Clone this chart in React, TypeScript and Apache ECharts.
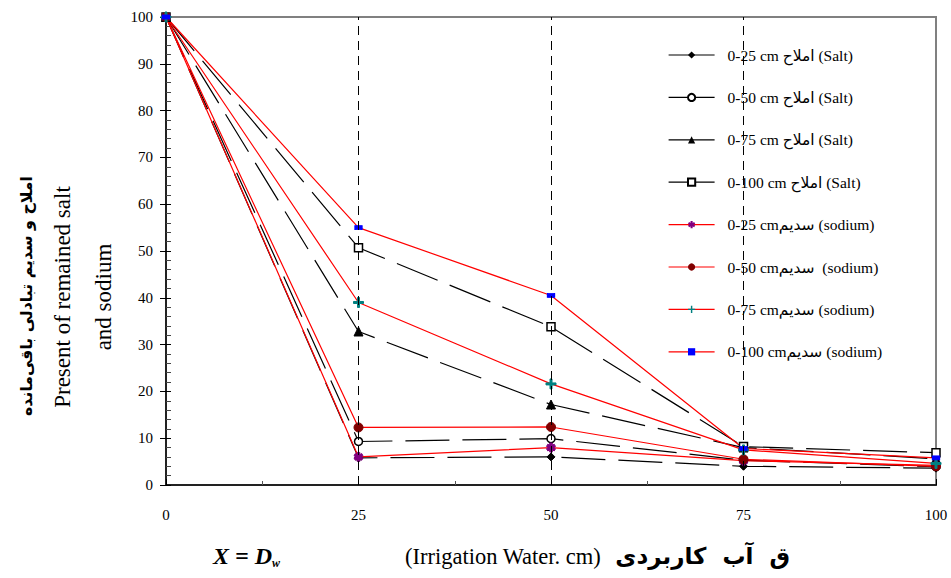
import React, { useEffect, useRef } from "react";
import * as echarts from "echarts";

const xValues = [0, 25, 50, 75, 100];
const xTicks = [0, 25, 50, 75, 100];
const yTicks = [0, 10, 20, 30, 40, 50, 60, 70, 80, 90, 100];

const seriesNames = [
  "0-25 cm املاح (Salt)",
  "0-50 cm املاح (Salt)",
  "0-75 cm املاح (Salt)",
  "0-100 cm املاح (Salt)",
  "0-25 cmسدیم (sodium)",
  "0-50 cmسدیم\u00a0 (sodium)",
  "0-75 cmسدیم (sodium)",
  "0-100 cmسدیم (sodium)",
];

const salt25 = [100, 5.8, 6.0, 4.0, 3.6];
const salt50 = [100, 9.3, 9.9, 5.3, 3.9];
const salt75 = [100, 32.8, 17.2, 8.0, 5.6];
const salt100 = [100, 50.7, 33.8, 8.2, 6.9];
const sodium25 = [100, 6.0, 8.0, 5.2, 4.2];
const sodium50 = [100, 12.3, 12.4, 5.5, 4.0];
const sodium75 = [100, 39.0, 21.6, 7.5, 4.6];
const sodium100 = [100, 55.0, 40.5, 7.8, 5.8];

const guideLines = [25, 50, 75];

function asteriskPath(): string {
  const w = 1.6;
  const h = 5.5;
  const parts: string[] = [];
  [0, 60, 120].forEach((deg) => {
    const a = (deg * Math.PI) / 180;
    const c = Math.cos(a);
    const s = Math.sin(a);
    const pts = [
      [-w, -h],
      [w, -h],
      [w, h],
      [-w, h],
    ].map(([px, py]) => [px * c - py * s, px * s + py * c]);
    parts.push(
      "M" + pts.map((p) => p[0].toFixed(2) + "," + p[1].toFixed(2)).join("L") + "Z"
    );
  });
  return "path://" + parts.join("");
}

const plusPath = "path://M-1,-5H1V-1H5V1H1V5H-1V1H-5V-1H-1Z";

export default function App() {
  const ref = useRef<HTMLDivElement>(null);
  useEffect(() => {
    document.body.style.margin = "0";
    if (!ref.current) return;
    const chart = echarts.init(ref.current, undefined, { renderer: "svg" });
    const mk = (arr: number[]) => arr.map((v, i) => [xValues[i], v]);
    const saltLine = { color: "#000", width: 1.2, type: [44, 13] as any };
    const redLine = { color: "#ff0000", width: 1.2, type: "solid" as any };
    const series: any[] = [
      {
        name: seriesNames[0],
        type: "line",
        data: mk(salt25),
        symbol: "diamond",
        symbolSize: 8,
        lineStyle: saltLine,
        itemStyle: { color: "#000", borderColor: "#000" },
        markLine: {
          silent: true,
          symbol: ["none", "none"],
          label: { show: false },
          lineStyle: { color: "#000", width: 1, type: [9, 6] },
          data: guideLines.map((v) => ({ xAxis: v })),
        },
      },
      {
        name: seriesNames[1],
        type: "line",
        data: mk(salt50),
        symbol: "circle",
        symbolSize: 8,
        lineStyle: saltLine,
        itemStyle: { color: "#fff", borderColor: "#000", borderWidth: 1.5 },
      },
      {
        name: seriesNames[2],
        type: "line",
        data: mk(salt75),
        symbol: "triangle",
        symbolSize: 9,
        lineStyle: saltLine,
        itemStyle: { color: "#000", borderColor: "#000" },
      },
      {
        name: seriesNames[3],
        type: "line",
        data: mk(salt100),
        symbol: "rect",
        symbolSize: 8,
        lineStyle: saltLine,
        itemStyle: { color: "#fff", borderColor: "#000", borderWidth: 1.5 },
      },
      {
        name: seriesNames[4],
        type: "line",
        data: mk(sodium25),
        symbol: asteriskPath(),
        symbolSize: 9,
        lineStyle: redLine,
        itemStyle: { color: "#800080", borderColor: "#800080" },
      },
      {
        name: seriesNames[5],
        type: "line",
        data: mk(sodium50),
        symbol: "circle",
        symbolSize: 9,
        lineStyle: redLine,
        itemStyle: { color: "#800000", borderColor: "#800000" },
      },
      {
        name: seriesNames[6],
        type: "line",
        data: mk(sodium75),
        symbol: plusPath,
        symbolSize: 10,
        lineStyle: redLine,
        itemStyle: { color: "#008080", borderColor: "#008080" },
      },
      {
        name: seriesNames[7],
        type: "line",
        data: mk(sodium100),
        symbol: "rect",
        symbolSize: [7, 4],
        lineStyle: redLine,
        itemStyle: { color: "#0000ff", borderColor: "#0000ff" },
      },
    ];

    const option: any = {
      animation: false,
      backgroundColor: "#fff",
      grid: {
        left: 166,
        right: 15,
        top: 17,
        bottom: 93,
        show: true,
        borderColor: "#808080",
        borderWidth: 2,
        backgroundColor: "transparent",
      },
      legend: {
        orient: "vertical",
        left: 663,
        top: 35,
        padding: [12, 14, 13, 5],
        itemGap: 26.4,
        itemWidth: 46,
        itemHeight: 9,
        backgroundColor: "#fff",
        lineStyle: { type: "solid", width: 1.2 },
        textStyle: {
          fontFamily: "Liberation Serif, DejaVu Sans",
          fontSize: 15.5,
          color: "#000",
          padding: [0, 0, 0, 8],
        },
        data: seriesNames,
      },
      xAxis: {
        type: "value",
        min: 0,
        max: 100,
        interval: 25,
        axisLine: { lineStyle: { color: "#222", width: 2 } },
        axisTick: { inside: true, length: 6, lineStyle: { color: "#000" } },
        minorTick: { show: true, splitNumber: 2, length: 4, lineStyle: { color: "#555" } },
        splitLine: { show: false },
        axisLabel: {
          margin: 22,
          fontFamily: "Liberation Serif",
          fontSize: 15,
          color: "#000",
          formatter: (v: number) => (xTicks.includes(v) ? String(v) : ""),
        },
      },
      yAxis: [
        {
          type: "value",
          min: 0,
          max: 100,
          interval: 10,
          axisLine: { lineStyle: { color: "#222", width: 2 } },
          axisTick: { inside: true, length: 5, lineStyle: { color: "#000" } },
          minorTick: { show: true, splitNumber: 5, length: 5, lineStyle: { color: "#444" } },
          splitLine: { show: false },
          axisLabel: {
            margin: 13,
            fontFamily: "Liberation Serif",
            fontSize: 15,
            color: "#000",
            formatter: (v: number) => (yTicks.includes(v) ? String(v) : ""),
          },
        },
        {
          type: "value",
          position: "left",
          min: 0,
          max: 100,
          interval: 10,
          axisLine: { show: false },
          axisTick: { show: true, inside: false, length: 6, lineStyle: { color: "#000" } },
          splitLine: { show: false },
          axisLabel: { show: false },
        },
      ],
      graphic: [
        {
          type: "text",
          x: 26,
          y: 296,
          rotation: Math.PI / 2,
          style: {
            text: "املاح و سدیم تبادلی باقی‌مانده",
            font: "bold 15.8px 'DejaVu Sans'",
            fill: "#000",
            align: "center",
            verticalAlign: "middle",
          },
        },
        {
          type: "text",
          x: 62,
          y: 297,
          rotation: Math.PI / 2,
          style: {
            text: "Present of remained salt",
            font: "23px 'Liberation Serif'",
            fill: "#000",
            align: "center",
            verticalAlign: "middle",
          },
        },
        {
          type: "text",
          x: 103,
          y: 297,
          rotation: Math.PI / 2,
          style: {
            text: "and sodium",
            font: "23px 'Liberation Serif'",
            fill: "#000",
            align: "center",
            verticalAlign: "middle",
          },
        },
        {
          type: "text",
          x: 213,
          y: 556,
          style: {
            text: "{a|X = D}{b|w}",
            fill: "#000",
            verticalAlign: "middle",
            rich: {
              a: { font: "italic bold 24px 'Liberation Serif'", fill: "#000" },
              b: { font: "italic bold 12px 'Liberation Serif'", fill: "#000", padding: [13, 0, 0, 0] },
            },
          },
        },
        {
          type: "text",
          x: 405,
          y: 556,
          style: {
            text: "(Irrigation Water. cm)",
            font: "22.5px 'Liberation Serif'",
            fill: "#000",
            align: "left",
            verticalAlign: "middle",
          },
        },
        {
          type: "text",
          x: 790,
          y: 556,
          style: {
            text: "ق  آب  کاربردی",
            font: "bold 23px 'DejaVu Sans'",
            fill: "#000",
            align: "right",
            verticalAlign: "middle",
          },
        },
      ],
      series,
    };
    chart.setOption(option);
    return () => chart.dispose();
  }, []);
  return <div ref={ref} style={{ width: 951, height: 578 }} />;
}
